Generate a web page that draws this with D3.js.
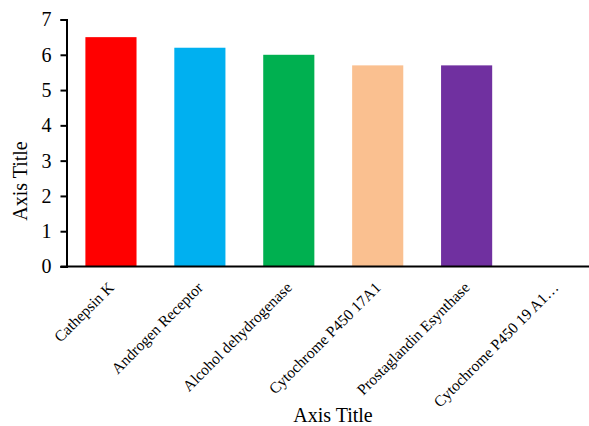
<!DOCTYPE html>
<html>
<head>
<meta charset="utf-8">
<script src="https://cdn.jsdelivr.net/npm/d3@7/dist/d3.min.js"></script>
<style>
  html, body { margin: 0; padding: 0; background: #fff; }
  svg { display: block; }
</style>
</head>
<body>
<svg id="chart" width="589" height="426" font-family="'Liberation Serif', 'Times New Roman', serif"></svg>
<script>
// Target proteins and their scores
const categories = [
  "Cathepsin K",
  "Androgen Receptor",
  "Alcohol dehydrogenase",
  "Cytochrome P450 17A1",
  "Prostaglandin Esynthase",
  "Cytochrome P450 19 A1\u2026"
];
const values = [6.5, 6.2, 6.0, 5.7, 5.7, 0];
const colors = ["#FF0000", "#00B0F0", "#00B050", "#FAC090", "#7030A0", "#000000"];
const yTicks = [0, 1, 2, 3, 4, 5, 6, 7];
const xTitle = "Axis Title";
const yTitle = "Axis Title";

const FONT = "'Liberation Serif', 'Times New Roman', serif";
const svg = d3.select("#chart");
const plot = { left: 66.5, right: 600, top: 19.5, bottom: 266.5 };

const x = d3.scaleBand()
  .domain(categories)
  .range([plot.left, plot.right])
  .paddingInner(0.425)
  .paddingOuter(0.2125);

const y = d3.scaleLinear()
  .domain([0, 7])
  .range([plot.bottom, plot.top]);

// Bars
svg.append("g")
  .selectAll("rect")
  .data(categories)
  .join("rect")
  .attr("x", d => x(d))
  .attr("width", x.bandwidth())
  .attr("y", (d, i) => y(values[i]))
  .attr("height", (d, i) => y(0) - y(values[i]))
  .attr("fill", (d, i) => colors[i]);

// Y axis
const yAxis = svg.append("g")
  .attr("transform", `translate(${plot.left},0)`)
  .call(d3.axisLeft(y).tickValues(yTicks).tickFormat(d3.format("d")).tickSizeOuter(0).tickSize(6).tickPadding(9))
  .attr("font-family", FONT)
  .attr("font-size", 20);
yAxis.select(".domain").attr("stroke", "#000").attr("stroke-width", 2);
yAxis.selectAll(".tick line").attr("stroke", "#000").attr("stroke-width", 2);
yAxis.selectAll(".tick text").attr("fill", "#000");

// X axis line
svg.append("line")
  .attr("x1", plot.left - 6).attr("x2", 589)
  .attr("y1", plot.bottom).attr("y2", plot.bottom)
  .attr("stroke", "#000").attr("stroke-width", 2);

// Rotated category labels
svg.append("g")
  .attr("font-family", FONT)
  .attr("font-size", 15.5)
  .selectAll("text")
  .data(categories)
  .join("text")
  .attr("transform", d => `translate(${x(d) + x.bandwidth() / 2 + 4},${plot.bottom + 22}) rotate(-45)`)
  .attr("text-anchor", "end")
  .text(d => d);

// Axis titles
svg.append("text")
  .attr("x", 333).attr("y", 422)
  .attr("text-anchor", "middle")
  .attr("font-family", FONT)
  .attr("font-size", 20)
  .text(xTitle);

svg.append("text")
  .attr("transform", `translate(27,181) rotate(-90)`)
  .attr("text-anchor", "middle")
  .attr("font-family", FONT)
  .attr("font-size", 20)
  .text(yTitle);
</script>
</body>
</html>
